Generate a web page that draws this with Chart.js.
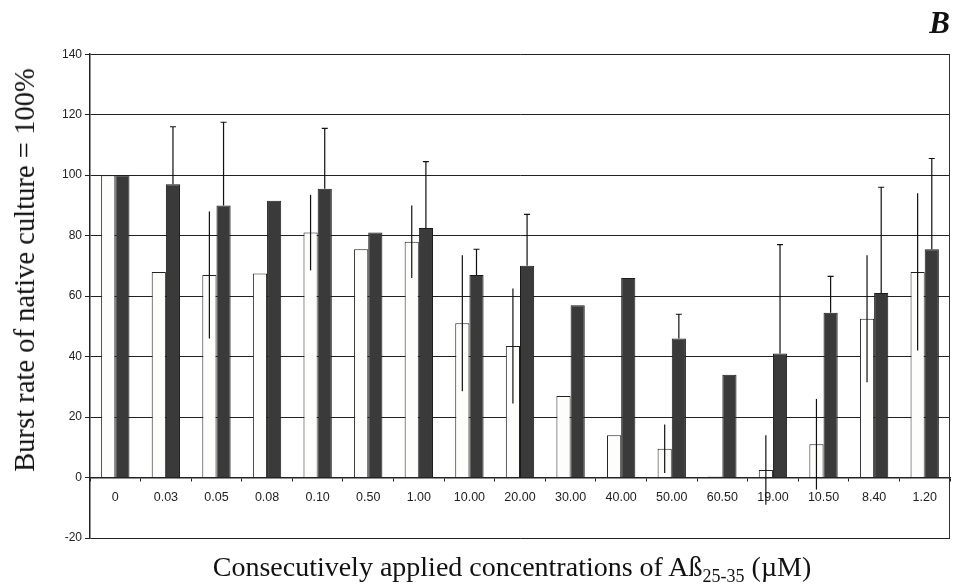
<!DOCTYPE html>
<html>
<head>
<meta charset="utf-8">
<script src="https://cdn.jsdelivr.net/npm/chart.js@4/dist/chart.umd.min.js"></script>
<style>
    body { margin: 0; background: #fff; }
    #caja { position: relative; width: 955px; height: 586px; }
    #titulo-x {
        position: absolute; left: 82px; width: 860px; top: 550px;
        text-align: center; font-family: "Liberation Serif", serif; font-size: 28px; color: #111;
        line-height: 34px;
    }
    #titulo-x sub { font-size: 18px; vertical-align: -6px; line-height: 0; }
    #titulo-y {
        position: absolute; left: 25px; top: 270px; white-space: nowrap;
        transform: translate(-50%, -50%) rotate(-90deg);
        font-family: "Liberation Serif", serif; font-size: 28.6px; color: #111; line-height: 32px;
    }
</style>
</head>
<body>
<div id="caja">
    <canvas id="grafica"></canvas>
    <div id="titulo-y">Burst rate of native culture = 100%</div>
    <div id="titulo-x">Consecutively applied concentrations of Aß<sub>25-35</sub> (µM)</div>
</div>
<script>
// concentraciones (eje x)
const categorias = ['0', '0.03', '0.05', '0.08', '0.10', '0.50', '1.00', '10.00', '20.00',
    '30.00', '40.00', '50.00', '60.50', '19.00', '10.50', '8.40', '1.20'];
// barras blancas y su desviacion (simetrica)
const blancas = [100, 68, 67, 67.5, 81, 75.5, 78, 51, 43.5, 27, 14, 9.5, 0.3, 2.5, 11, 52.5, 68];
const errBlancas = [null, null, 21, null, 12.5, null, 12, 22.5, 19, null, null, 8, null, 11.5, 15, 21, 26];
// barras oscuras y su desviacion (solo hacia arriba)
const oscuras = [100, 97, 90, 91.5, 95.5, 81, 82.5, 67, 70, 57, 66, 46, 34, 41, 54.5, 61, 75.5];
const errOscuras = [null, 19, 27.5, null, 20, null, 22, 8.5, 17, null, null, 8, null, 36, 12, 35, 30];
// marcas del eje y
const marcasY = [-20, 0, 20, 40, 60, 80, 100, 120, 140];

const barrasError = {
    id: 'barrasError',
    afterDatasetsDraw(chart) {
        const ctx = chart.ctx;
        const y = chart.scales.y;
        const area = chart.chartArea;
        ctx.save();
        ctx.strokeStyle = '#111';
        ctx.lineWidth = 1.2;
        [[0, blancas, errBlancas, false], [1, oscuras, errOscuras, true]].forEach(([i, vals, errs, soloArriba]) => {
            const meta = chart.getDatasetMeta(i);
            meta.data.forEach((bar, k) => {
                const e = errs[k];
                if (e == null) return;
                const top = y.getPixelForValue(vals[k] + e);
                const bot = soloArriba ? bar.y : y.getPixelForValue(vals[k] - e);
                ctx.beginPath();
                ctx.moveTo(bar.x, top);
                ctx.lineTo(bar.x, bot);
                if (soloArriba) {
                    ctx.moveTo(bar.x - 3, top);
                    ctx.lineTo(bar.x + 3, top);
                }
                ctx.stroke();
            });
        });
        // borde derecho del area
        ctx.lineWidth = 1;
        ctx.strokeStyle = '#333';
        ctx.beginPath();
        ctx.moveTo(area.right - 0.5, area.top);
        ctx.lineTo(area.right - 0.5, area.bottom);
        ctx.stroke();
        ctx.restore();
    }
};

new Chart(document.getElementById('grafica'), {
    type: 'bar',
    data: {
        labels: categorias,
        datasets: [{
            data: blancas,
            backgroundColor: '#fdfdfb',
            borderColor: '#222',
            borderWidth: 1,
            categoryPercentage: 0.56,
            barPercentage: 1
        }, {
            data: oscuras,
            backgroundColor: '#3a3a3a',
            borderColor: '#1a1a1a',
            borderWidth: 1,
            categoryPercentage: 0.56,
            barPercentage: 1
        }]
    },
    options: {
        responsive: true,
        maintainAspectRatio: false,
        animation: false,
        layout: { padding: { left: 0, right: 5, top: 0, bottom: 48 } },
        plugins: {
            legend: { display: false },
            tooltip: { enabled: false },
            title: {
                display: true,
                text: 'B',
                align: 'end',
                color: '#111',
                font: { family: 'Liberation Serif', size: 31, style: 'italic', weight: 'bold' },
                padding: { top: 6, bottom: 11 }
            }
        },
        scales: {
            x: {
                type: 'category',
                position: { y: 0 },
                border: { display: true, color: '#222', width: 1.5 },
                grid: { drawOnChartArea: false, drawTicks: true, tickLength: 3, color: '#222', offset: true },
                ticks: { color: '#222', padding: 10, font: { family: 'Liberation Sans', size: 12.5 } }
            },
            y: {
                min: -20,
                max: 140,
                afterBuildTicks: s => { s.ticks = marcasY.map(v => ({ value: v })); },
                afterFit: s => { s.width = 90; },
                border: { display: true, color: '#222', width: 1.5 },
                grid: { color: '#222', lineWidth: 1, tickLength: 5 },
                ticks: { color: '#222', padding: 3, font: { family: 'Liberation Sans', size: 12 } }
            }
        }
    },
    plugins: [barrasError]
});
</script>
</body>
</html>
